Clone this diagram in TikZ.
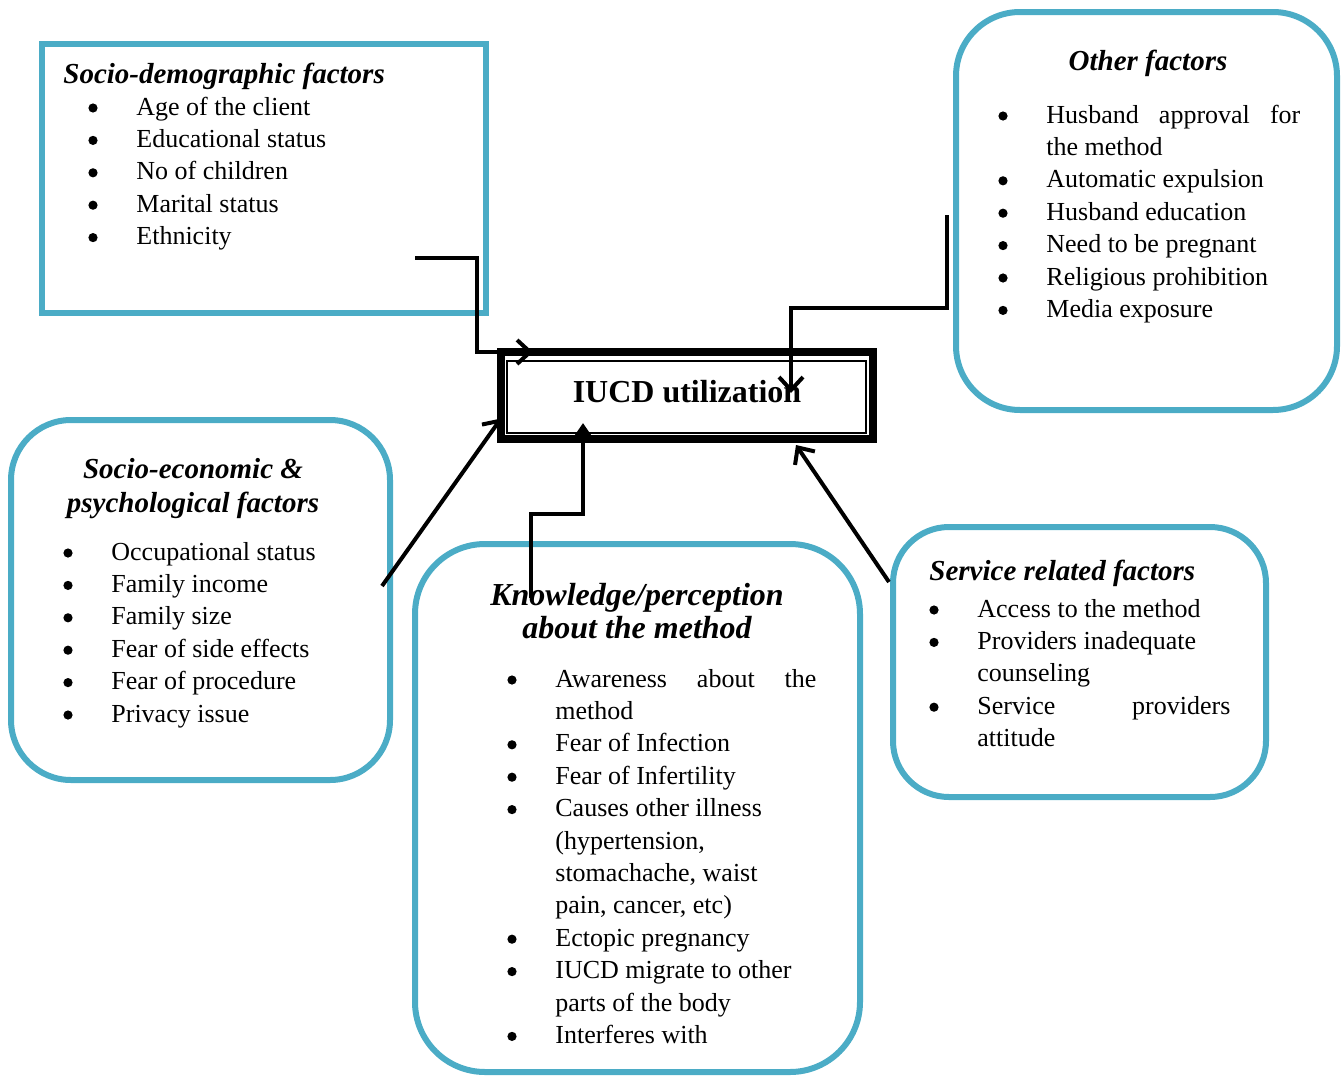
\documentclass[tikz,border=0pt]{standalone}
\usepackage{fontspec}
\setmainfont{Liberation Serif}
\usetikzlibrary{arrows.meta,calc,fit}
\definecolor{factorblue}{HTML}{4BACC6}
\newcommand{\factorlist}[1]{\begin{tabular}[t]{@{}p{24pt}@{}l@{}}#1\end{tabular}}
\newcommand{\bul}{\tikz[baseline=0pt]\fill (2.3pt,3.5pt) circle (2.3pt); &}
\tikzset{
  factorbox/.style={draw=factorblue, line width=3pt, rounded corners=#1, inner sep=0pt, outer sep=0pt},
  factorbox/.default=0pt,
  heading/.style={inner sep=0pt, font=\fontsize{14.5}{17}\selectfont\bfseries\itshape},
  itemlist/.style={inner sep=0pt, anchor=base west, font=\fontsize{13}{16.2}\selectfont},
  flow/.style={line width=2pt, -{Straight Barb[length=6.5pt,width=12pt]}},
}
\begin{document}
\begin{tikzpicture}[x=0.5pt,y=-0.5pt]
\useasboundingbox (0,0) rectangle (1344,1076);
% boxes
\node[factorbox, fit={(41.5,44) (485.5,313)}] (sd) {};
\node[factorbox=32pt, fit={(956,12) (1337,410)}] (od) {};
\node[factorbox=30pt, fit={(11,420) (390,780)}] (se) {};
\node[factorbox=35pt, fit={(415,544) (860,1072)}] (kp) {};
\node[factorbox=28pt, fit={(893,527) (1266,797)}] (sr) {};
% the centre
\node[draw, line width=4pt, inner sep=0pt, outer sep=0pt, minimum width=186pt, minimum height=43.5pt,
  text height=6.5pt, text depth=0pt, font=\fontsize{16}{19}\selectfont\bfseries] (iucd) at (687,395.5) {IUCD utilization};
\draw[line width=1pt] ([shift={(3pt,-4.5pt)}]iucd.north west) rectangle ([shift={(-3.5pt,3pt)}]iucd.south east);

% Socio-demographic
\node[heading, anchor=base west] (sd-head) at (63,83) {Socio-demographic factors};
\node[itemlist] (sd-list) at (88,115) {\factorlist{
\bul Age of the client\\
\bul Educational status\\
\bul No of children\\
\bul Marital status\\
\bul Ethnicity}};

% Other
\node[heading, anchor=base] (od-head) at (1148,70) {Other factors};
\node[itemlist] (od-list) at (998,123) {\factorlist{
\bul \makebox[127pt][s]{Husband approval for}\\
 & the method\\
\bul Automatic expulsion\\
\bul Husband education\\
\bul Need to be pregnant\\
\bul Religious prohibition\\
\bul Media exposure}};

% Socio-economic
\node[heading, anchor=base] (se-head1) at (193,478) {Socio-economic \&};
\node[heading, anchor=base] (se-head2) at (193,512) {psychological factors};
\node[itemlist] (se-list) at (63,560) {\factorlist{
\bul Occupational status\\
\bul Family income\\
\bul Family size\\
\bul Fear of side effects\\
\bul Fear of procedure\\
\bul Privacy issue}};

% Knowledge
\node[heading, anchor=base, font=\fontsize{16}{19}\selectfont\bfseries\itshape] (kp-head1) at (637,605) {Knowledge/perception};
\node[heading, anchor=base, font=\fontsize{16}{19}\selectfont\bfseries\itshape] (kp-head2) at (637,638) {about the method};
\node[itemlist] (kp-list) at (507,687) {\factorlist{
\bul \makebox[130.5pt][s]{Awareness about the}\\
 & method\\
\bul Fear of Infection\\
\bul Fear of Infertility\\
\bul Causes other illness\\
 & (hypertension,\\
 & stomachache, waist\\
 & pain, cancer, etc)\\
\bul Ectopic pregnancy\\
\bul IUCD migrate to other\\
 & parts of the body\\
\bul Interferes with}};

% Service
\node[heading, anchor=base west] (sr-head) at (929,580) {Service related factors};
\node[itemlist] (sr-list) at (929,617) {\factorlist{
\bul Access to the method\\
\bul Providers inadequate\\
 & counseling\\
\bul \makebox[126.5pt][s]{Service providers}\\
 & attitude}};

% connectors
\coordinate (sd-out) at (415,258);
\coordinate (od-out) at (947,215);
\coordinate (se-out) at (382,586);
\coordinate (kp-out) at (531,598);
\coordinate (sr-out) at (889,582);
\coordinate (sd-in) at ([xshift=16pt]iucd.north west);
\coordinate (od-in) at ([shift={(145pt,-20.5pt)}]iucd.north west);
\coordinate (se-in) at ([yshift=-11.5pt]iucd.west);
\coordinate (kp-in) at ([shift={(41pt,8pt)}]iucd.south west);
\coordinate (sr-in) at ([shift={(147.5pt,-3pt)}]iucd.south west);
\draw[flow] (sd-out) -- ++(62,0) |- (sd-in);
\draw[flow] (od-out) -- ++(0,93) -| (od-in);
\draw[flow] (se-out) -- (se-in);
\draw[flow, -{Triangle[length=7pt,width=9pt]}] (kp-out) -- ++(0,-84) -| (kp-in);
\draw[flow] (sr-out) -- (sr-in);
\end{tikzpicture}
\end{document}
